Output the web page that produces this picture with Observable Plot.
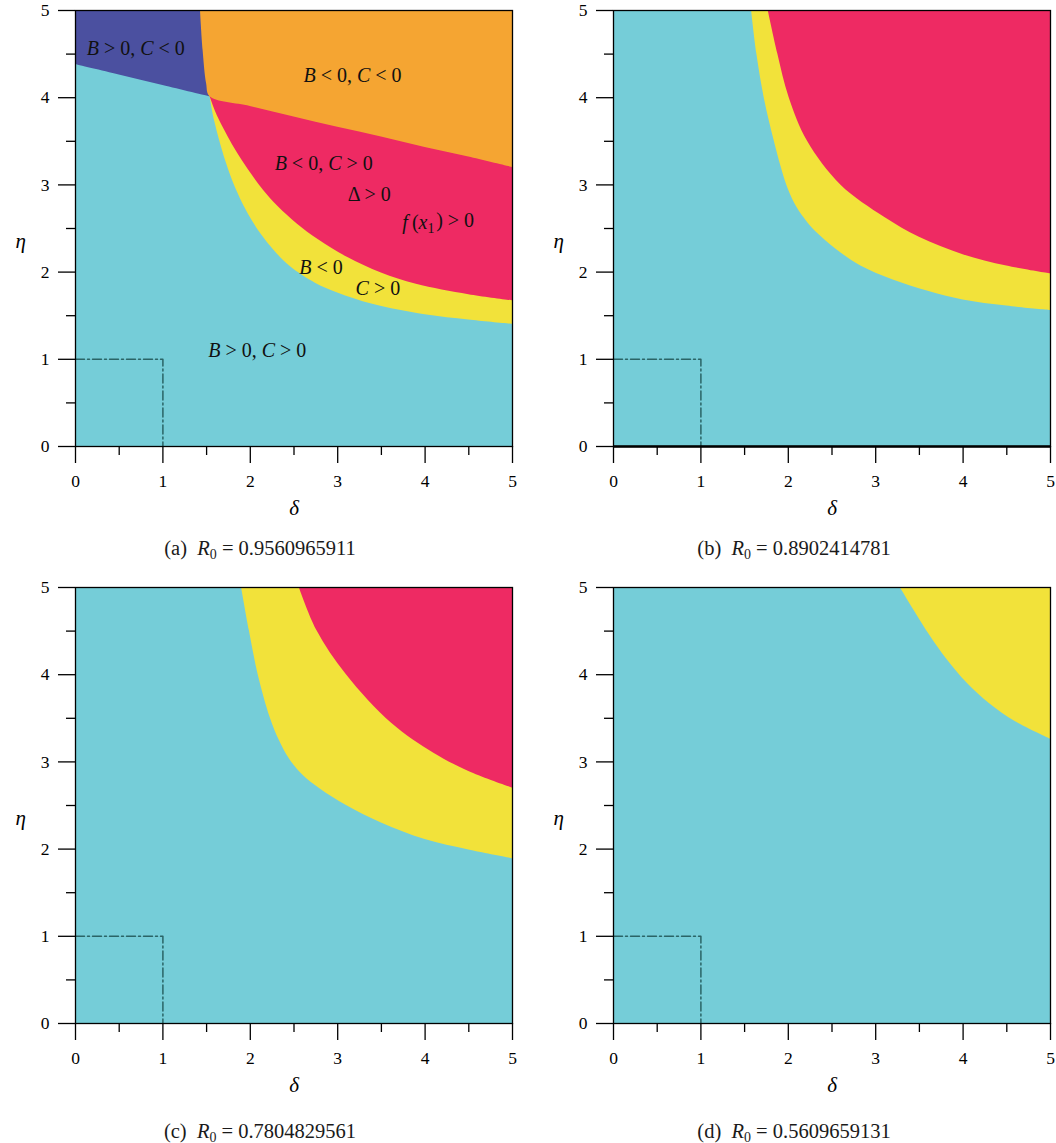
<!DOCTYPE html>
<html><head><meta charset="utf-8">
<script src="https://cdn.jsdelivr.net/npm/d3@7"></script>
<script src="https://cdn.jsdelivr.net/npm/@observablehq/plot@0.6"></script>
<style>
body{margin:0;background:#fff;}
#wrap{position:relative;width:1056px;height:1143px;font-family:"Liberation Serif",serif;}
.panel{position:absolute;}
.cap{position:absolute;width:528px;text-align:center;font-size:20.5px;line-height:22px;color:#1a1a1a;white-space:pre;}
.cap sub{font-size:0.68em;vertical-align:-0.3em;line-height:0;}
</style></head><body><div id="wrap"></div>
<script>
// ---- axis ticks ----
const deltaTicks = [0, 1, 2, 3, 4, 5];
const etaTicks = [0, 1, 2, 3, 4, 5];
const minorTicks = [0.5, 1.5, 2.5, 3.5, 4.5];

// ---- dash-dot reference square (delta, eta) ----
const refDelta = [0, 1, 1];
const refEta = [1, 1, 0];

// ---- panel (a) boundaries ----
const aBlueDelta = [0, 0.5, 1.0, 1.54];
const aBlueEta = [4.38, 4.26, 4.14, 4.01];
const aOrangeDelta = [1.43, 1.46, 1.50, 1.54, 2.0, 2.5, 3.0, 3.5, 4.0, 4.5, 5.0];
const aOrangeEta = [5.0, 4.54, 4.16, 4.01, 3.90, 3.78, 3.66, 3.55, 3.43, 3.32, 3.20];
const aRedDelta = [1.54, 1.62, 1.72, 1.82, 1.98, 2.15, 2.32, 2.54, 2.78, 3.11, 3.5, 3.9, 4.5, 5.0];
const aRedEta = [4.01, 3.80, 3.60, 3.42, 3.17, 2.94, 2.75, 2.55, 2.37, 2.17, 1.99, 1.86, 1.74, 1.67];
const aYellowDelta = [1.54, 1.59, 1.66, 1.75, 1.86, 1.98, 2.12, 2.28, 2.46, 2.75, 3.0, 3.4, 4.0, 4.5, 5.0];
const aYellowEta = [4.01, 3.74, 3.47, 3.18, 2.90, 2.66, 2.44, 2.24, 2.06, 1.87, 1.76, 1.63, 1.51, 1.45, 1.40];

// ---- panel (a) region labels ----
const aLabelText = ["B > 0, C < 0", "B < 0, C < 0", "B < 0, C > 0", "Δ > 0", "f(x1) > 0", "B < 0", "C > 0", "B > 0, C > 0"];
const aLabelDelta = [0.69, 3.17, 2.84, 3.36, 4.15, 2.81, 3.46, 2.08];
const aLabelEta = [4.56, 4.25, 3.25, 2.89, 2.57, 2.05, 1.81, 1.10];

// ---- panel (b) boundaries ----
const bYellowDelta = [1.58, 1.64, 1.73, 1.84, 1.92, 2.0, 2.1, 2.22, 2.34, 2.55, 2.83, 3.2, 3.6, 4.0, 4.5, 5.0];
const bYellowEta = [5.0, 4.5, 3.97, 3.5, 3.2, 2.95, 2.74, 2.57, 2.44, 2.26, 2.07, 1.91, 1.78, 1.68, 1.61, 1.56];
const bRedDelta = [1.77, 1.88, 2.01, 2.22, 2.6, 3.1, 3.5, 4.0, 4.5, 5.0];
const bRedEta = [5.0, 4.5, 4.0, 3.5, 3.0, 2.63, 2.40, 2.20, 2.07, 1.98];

// ---- panel (c) boundaries ----
const cYellowDelta = [1.90, 1.99, 2.09, 2.23, 2.33, 2.45, 2.6, 2.8, 3.10, 3.5, 4.0, 4.5, 5.0];
const cYellowEta = [5.0, 4.5, 4.0, 3.5, 3.25, 3.03, 2.85, 2.69, 2.50, 2.30, 2.11, 1.99, 1.89];
const cRedDelta = [2.56, 2.76, 3.10, 3.62, 4.10, 4.50, 5.0];
const cRedEta = [5.0, 4.51, 4.0, 3.44, 3.10, 2.89, 2.70];

// ---- panel (d) boundaries ----
const dYellowDelta = [3.28, 3.45, 3.62, 3.82, 4.05, 4.3, 4.6, 5.0];
const dYellowEta = [5.0, 4.72, 4.45, 4.17, 3.90, 3.67, 3.46, 3.26];

// ---- captions ----
const captionTags = ["(a)", "(b)", "(c)", "(d)"];
const r0Values = ["0.9560965911", "0.8902414781", "0.7804829561", "0.5609659131"];

// ---- colours ----
const CYAN = "#75cdd8", YELLOW = "#f2e23a", RED = "#ee2a63", ORANGE = "#f5a532", BLUE = "#4b50a0";

const zip = (ds, es) => ds.map((d, i) => ({d, e: es[i]}));

function mathify(svg, labels) {
  const NS = "http://www.w3.org/2000/svg";
  const add = (t, text, attrs) => {
    const sp = document.createElementNS(NS, "tspan");
    for (const k in attrs) sp.setAttribute(k, attrs[k]);
    sp.textContent = text;
    t.appendChild(sp);
  };
  svg.querySelectorAll("text").forEach(t => {
    const s = t.textContent;
    if (!labels.includes(s)) return;
    t.textContent = "";
    let i = 0;
    while (i < s.length) {
      const ch = s[i];
      if (/[A-Za-z]/.test(ch)) {
        add(t, ch, {"font-style": "italic"});
        if (ch === "f") add(t, "\u2009", {});
        if (ch === "x" && /[0-9]/.test(s[i + 1] || "")) {
          add(t, s[i + 1], {"font-size": "0.7em", "dy": "0.3em"});
          add(t, "\u200a", {"dy": "-0.3em"});
          i += 2;
          continue;
        }
        i++;
      } else {
        let j = i;
        while (j < s.length && !/[A-Za-z]/.test(s[j])) j++;
        add(t, s.slice(i, j), {});
        i = j;
      }
    }
  });
}

function makePanel(layers, extra) {
  const marks = [Plot.frame({fill: CYAN, stroke: null})];
  for (const L of layers) {
    marks.push(Plot.areaY(L.rows, {x: "d", y1: "e", y2: () => 5, fill: L.color, curve: "catmull-rom"}));
  }
  marks.push(Plot.line(zip(refDelta, refEta), {x: "d", y: "e", stroke: "#2a6466", strokeWidth: 1.5, strokeDasharray: "9,3,2,3"}));
  if (extra.thickBase) marks.push(Plot.ruleY([0], {stroke: "black", strokeWidth: 2.6}));
  if (extra.labels) {
    marks.push(Plot.text(extra.labels, {x: "d", y: "e", text: "t", fontSize: 20, fill: "#111", fontFamily: "Liberation Serif"}));
  }
  const fmt = d => String(d);
  marks.push(
    Plot.axisX({ticks: deltaTicks, tickSize: 17, tickPadding: 11, fontSize: 17.5, tickFormat: fmt, label: null, strokeWidth: 1.3, stroke: "black"}),
    Plot.axisX({ticks: minorTicks, tickSize: 9, tickFormat: () => "", label: null, strokeWidth: 1.3, stroke: "black"}),
    Plot.axisY({ticks: etaTicks, tickSize: 17, tickPadding: 9, fontSize: 17.5, tickFormat: fmt, label: null, strokeWidth: 1.3, stroke: "black"}),
    Plot.axisY({ticks: minorTicks, tickSize: 9, tickFormat: () => "", label: null, strokeWidth: 1.3, stroke: "black"}),
    Plot.text(["δ"], {frameAnchor: "bottom", dy: 68, text: d => d, fontStyle: "italic", fontSize: 21, fontFamily: "Liberation Serif"}),
    Plot.text(["η"], {frameAnchor: "left", dx: -60, dy: 13, text: d => d, fontStyle: "italic", fontSize: 21, fontFamily: "Liberation Serif"}),
    Plot.frame({stroke: "black", strokeWidth: 1.3})
  );
  const svg = Plot.plot({
    width: 518, height: 530,
    marginLeft: 75, marginRight: 6, marginTop: 10, marginBottom: 84,
    x: {domain: [0, 5], label: null},
    y: {domain: [0, 5], label: null},
    style: {fontFamily: "Liberation Serif", fontSize: "17px", color: "black", background: "transparent", overflow: "visible"},
    marks
  });
  if (extra.labels) mathify(svg, aLabelText);
  return svg;
}

const panels = [
  makePanel([
    {rows: zip(aYellowDelta, aYellowEta), color: YELLOW},
    {rows: zip(aRedDelta, aRedEta), color: RED},
    {rows: zip(aBlueDelta, aBlueEta), color: BLUE},
    {rows: zip(aOrangeDelta, aOrangeEta), color: ORANGE}
  ], {labels: aLabelText.map((t, i) => ({t, d: aLabelDelta[i], e: aLabelEta[i]}))}),
  makePanel([
    {rows: zip(bYellowDelta, bYellowEta), color: YELLOW},
    {rows: zip(bRedDelta, bRedEta), color: RED}
  ], {thickBase: true}),
  makePanel([
    {rows: zip(cYellowDelta, cYellowEta), color: YELLOW},
    {rows: zip(cRedDelta, cRedEta), color: RED}
  ], {}),
  makePanel([
    {rows: zip(dYellowDelta, dYellowEta), color: YELLOW}
  ], {})
];

const wrap = document.getElementById("wrap");
const lefts = [0, 538, 0, 538];
const tops = [0, 0, 577, 577];
const capTops = [537, 537, 1120, 1120];
panels.forEach((svg, i) => {
  const div = document.createElement("div");
  div.className = "panel";
  div.style.left = lefts[i] + "px";
  div.style.top = tops[i] + "px";
  div.appendChild(svg);
  wrap.appendChild(div);
  const cap = document.createElement("div");
  cap.className = "cap";
  cap.style.left = (i % 2 === 0 ? -4 : 530) + "px";
  cap.style.top = capTops[i] + "px";
  cap.innerHTML = captionTags[i] + "  <i>R</i><sub>0</sub> = " + r0Values[i];
  wrap.appendChild(cap);
});
</script></body></html>
